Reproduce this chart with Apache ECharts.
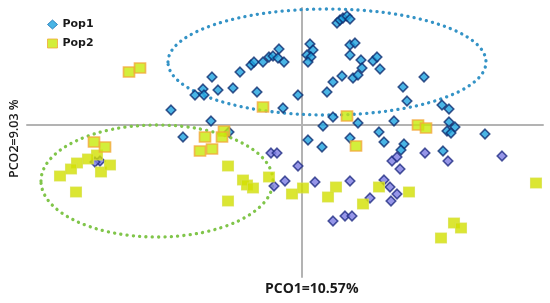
<!DOCTYPE html>
<html>
<head>
<meta charset="utf-8">
<script src="https://cdn.jsdelivr.net/npm/echarts@6/dist/echarts.min.js"></script>
<style>
  html, body { margin: 0; padding: 0; background: #fff; }
  #main { width: 550px; height: 303px; }
</style>
</head>
<body>
<div id="main"></div>
<script>
// PCO1 / PCO2 scores
var pop1Upper = [
  [-0.90, 0.48], [-0.62, 0.53], [-0.51, 0.60], [-0.48, 0.63], [-0.39, 0.63], [-0.33, 0.68],
  [-0.29, 0.69], [-0.24, 0.67], [-0.23, 0.76], [-0.18, 0.63], [-0.99, 0.36], [-1.07, 0.30],
  [-0.98, 0.30], [-0.84, 0.35], [-0.69, 0.37], [-0.45, 0.33], [-0.04, 0.30], [-1.31, 0.15],
  [-0.19, 0.17], [-0.91, 0.04], [-1.19, -0.12], [-0.73, -0.07],
  [0.35, 1.02], [0.38, 1.05], [0.41, 1.07], [0.45, 1.09], [0.48, 1.06], [0.08, 0.81],
  [0.11, 0.75], [0.05, 0.70], [0.09, 0.68], [0.06, 0.63], [0.48, 0.80], [0.53, 0.82],
  [0.48, 0.70], [0.59, 0.65], [0.60, 0.57], [0.71, 0.64], [0.75, 0.68], [0.78, 0.56],
  [0.40, 0.49], [0.31, 0.43], [0.51, 0.47], [0.56, 0.50], [1.01, 0.38], [0.25, 0.33],
  [1.22, 0.48], [1.05, 0.24], [1.40, 0.20], [1.47, 0.16], [0.31, 0.08], [0.56, 0.02],
  [0.21, -0.01], [0.92, 0.04], [1.47, 0.03], [1.53, -0.02], [1.45, -0.06], [1.49, -0.08],
  [1.83, -0.09], [0.06, -0.15], [0.20, -0.22], [0.48, -0.13], [0.77, -0.07], [0.82, -0.17],
  [1.02, -0.19], [0.99, -0.25], [1.41, -0.26]
]
var pop1Lower = [
  [-2.02, -0.36], [-2.07, -0.37], [-0.31, -0.28], [-0.25, -0.28], [-0.04, -0.41], [-0.17, -0.56],
  [-0.28, -0.61], [0.13, -0.57], [0.48, -0.56], [0.82, -0.55], [0.88, -0.62], [0.95, -0.69],
  [0.89, -0.76], [0.68, -0.73], [0.31, -0.96], [0.43, -0.91], [0.50, -0.91], [0.90, -0.36],
  [0.95, -0.32], [0.98, -0.44], [1.23, -0.28], [1.46, -0.36], [2.00, -0.31]
]
var pop2Edged = [
  [-1.73, 0.53], [-1.62, 0.57], [-0.39, 0.18], [0.45, 0.09], [1.16, 0.00], [1.24, -0.03],
  [0.54, -0.21], [-2.08, -0.17], [-1.97, -0.22], [-0.97, -0.12], [-0.78, -0.06], [-0.80, -0.12],
  [-1.02, -0.26], [-0.90, -0.24]
]
var pop2Plain = [
  [-2.05, -0.30], [-2.14, -0.34], [-2.25, -0.38], [-2.31, -0.44], [-2.42, -0.51], [-2.01, -0.47],
  [-1.92, -0.40], [-2.26, -0.67], [-0.74, -0.41], [-0.59, -0.55], [-0.55, -0.60], [-0.49, -0.63],
  [-0.74, -0.76], [-0.33, -0.52], [-0.10, -0.69], [0.01, -0.63], [0.34, -0.62], [0.26, -0.72],
  [0.61, -0.79], [0.77, -0.62], [1.07, -0.67], [2.34, -0.58], [1.52, -0.98], [1.59, -1.03],
  [1.39, -1.13]
]
// group ellipses: centre x, centre y, radius x, radius y
var ellipses = [
  [0.25, 0.63, 1.59, 0.53],
  [-1.45, -0.56, 1.16, 0.56]
]
var ellipseColors = ['#3493c6', '#80c54a']
var legendNames = ['Pop1', 'Pop2']

var chart = echarts.init(document.getElementById('main'))

var diamondStyle = function (fill, edge) {
  return { color: fill, borderColor: edge, borderWidth: 1.6 }
}

var option = {
  backgroundColor: '#fff',
  animation: false,
  grid: { left: 27, right: 7, top: 8, bottom: 26 },
  legend: {
    data: [
      { name: 'Pop1', icon: 'diamond', itemStyle: { color: '#1da3de', borderColor: '#1a6fb0', borderWidth: 1 } },
      { name: 'Pop2', icon: 'rect', itemStyle: { color: '#c8ea0a', borderColor: '#f2a93b', borderWidth: 1 } }
    ],
    orient: 'vertical',
    left: 42,
    top: 14,
    itemWidth: 10,
    itemHeight: 9,
    itemGap: 8,
    textStyle: { fontFamily: 'DejaVu Sans', fontWeight: 'bold', fontSize: 11, color: '#1a1a1a' }
  },
  xAxis: {
    type: 'value', min: -2.75, max: 2.41,
    axisLine: { onZero: true, lineStyle: { color: '#b3b3b3', width: 2 } },
    axisTick: { show: false }, axisLabel: { show: false }, splitLine: { show: false }
  },
  yAxis: {
    type: 'value', min: -1.52, max: 1.17,
    axisLine: { show: true, onZero: true, lineStyle: { color: '#b3b3b3', width: 2 } },
    axisTick: { show: false }, axisLabel: { show: false }, splitLine: { show: false }
  },
  graphic: [
    {
      type: 'text', left: 265, top: 282,
      style: { text: 'PCO1=10.57%', font: 'bold 14px "Open Sans"', fill: '#1a1a1a' }
    },
    {
      type: 'text', x: 8, y: 178, rotation: Math.PI / 2,
      style: { text: 'PCO2=9.03 %', font: '600 12.5px "Open Sans"', fill: '#1a1a1a' }
    }
  ],
  series: [
    {
      type: 'custom',
      coordinateSystem: 'cartesian2d',
      silent: true,
      clip: false,
      z: 1,
      data: ellipses,
      renderItem: function (params, api) {
        var c = api.coord([api.value(0), api.value(1)])
        var s = api.size([api.value(2), api.value(3)])
        return {
          type: 'ellipse',
          shape: { cx: c[0], cy: c[1], rx: s[0], ry: s[1] },
          style: {
            fill: null,
            stroke: ellipseColors[params.dataIndex],
            lineWidth: 3.3,
            lineDash: [0.1, 6.2],
            lineCap: 'round'
          }
        }
      }
    },
    {
      name: 'Pop1', type: 'scatter', z: 2,
      symbol: 'diamond', symbolSize: 9.5,
      itemStyle: diamondStyle('#1da3de', '#0c2a6e'),
      data: pop1Upper
    },
    {
      name: 'Pop1', type: 'scatter', z: 2,
      symbol: 'diamond', symbolSize: 9.5,
      itemStyle: diamondStyle('#7c7ce2', '#1e2a82'),
      data: pop1Lower
    },
    {
      name: 'Pop2', type: 'scatter', z: 3,
      symbol: 'rect', symbolSize: [11, 10],
      itemStyle: { color: '#d2e000', borderColor: '#d8e14a', borderWidth: 1 },
      data: pop2Plain
    },
    {
      name: 'Pop2', type: 'scatter', z: 3,
      symbol: 'rect', symbolSize: [11, 10],
      itemStyle: { color: '#c8ea0a', borderColor: '#f2a93b', borderWidth: 1.6 },
      data: pop2Edged
    }
  ]
}
chart.setOption(option)
</script>
</body>
</html>
